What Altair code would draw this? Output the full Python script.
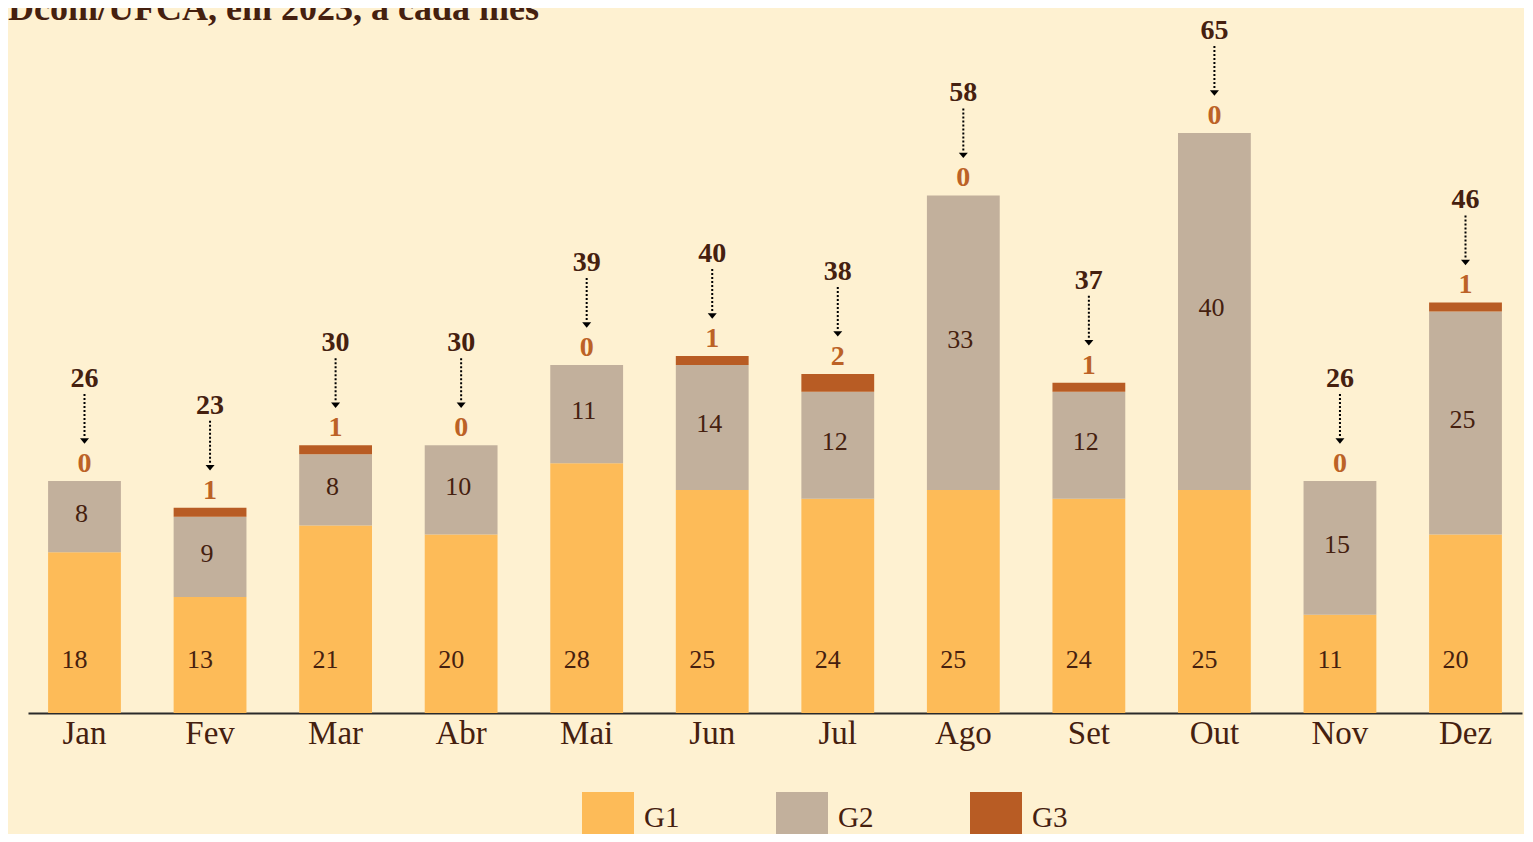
import altair as alt
import pandas as pd

months = ["Jan", "Fev", "Mar", "Abr", "Mai", "Jun", "Jul", "Ago", "Set", "Out", "Nov", "Dez"]
g1 = [18, 13, 21, 20, 28, 25, 24, 25, 24, 25, 11, 20]
g2 = [8, 9, 8, 10, 11, 14, 12, 33, 12, 40, 15, 25]
g3 = [0, 1, 1, 0, 0, 1, 2, 0, 1, 0, 0, 1]
groups = ["G1", "G2", "G3"]
colors = ["#FDBB58", "#C2B09C", "#B85C24"]
title_text = "Dcom/UFCA, em 2023, a cada mês"

SERIF = "Liberation Serif"
DARK = "#45200F"
RUST_TXT = "#BC6226"
BG = "#FEF1D1"

rows = []
for i, m in enumerate(months):
    s = 0
    for g, vals in zip(groups, (g1, g2, g3)):
        v = vals[i]
        rows.append({"mes": m, "grupo": g, "valor": v, "ini": s, "fim": s + v})
        s += v
bars_df = pd.DataFrame(rows)

totals = [a + b + c for a, b, c in zip(g1, g2, g3)]
lab_df = pd.DataFrame({
    "mes": months,
    "g1": g1,
    "g2": g2,
    "g3": g3,
    "total": totals,
    "g2mid": [a + b / 2 for a, b in zip(g1, g2)],
    "zero": [0] * len(months),
})

x = alt.X(
    "mes:N",
    sort=months,
    scale=alt.Scale(paddingInner=0.42, paddingOuter=0.16),
    axis=alt.Axis(
        title=None, labelAngle=0, ticks=False, tickSize=0, labelPadding=4,
        domainColor="#2a2a2a", domainWidth=2, labelFontSize=33, labelFont=SERIF,
        labelColor=DARK, grid=False,
    ),
)
yscale = alt.Scale(domain=[0, 79], nice=False)

bars = alt.Chart(bars_df).mark_bar().encode(
    x=x,
    y=alt.Y("ini:Q", scale=yscale, axis=None),
    y2="fim:Q",
    color=alt.Color(
        "grupo:N",
        scale=alt.Scale(domain=groups, range=colors),
        legend=alt.Legend(
            title=None, orient="none", legendX=554, legendY=784,
            direction="horizontal", symbolType="square", symbolSize=2704,
            symbolStrokeWidth=0, symbolOpacity=1, labelFontSize=29, labelFont=SERIF,
            labelColor=DARK, labelOffset=10, columnPadding=96, padding=0,
        ),
    ),
)

base = alt.Chart(lab_df)

g1_lab = base.mark_text(dx=-10, dy=-53, baseline="middle", fontSize=26, font=SERIF, color=DARK).encode(
    x=x, y=alt.Y("zero:Q", scale=yscale, axis=None), text="g1:Q"
)
g2_lab = base.mark_text(dx=-3, dy=-3, baseline="middle", fontSize=26, font=SERIF, color=DARK).encode(
    x=x, y=alt.Y("g2mid:Q", scale=yscale, axis=None), text="g2:Q"
)
g3_lab = base.mark_text(dy=-17, baseline="middle", fontSize=28, font=SERIF, fontWeight="bold", color=RUST_TXT).encode(
    x=x, y=alt.Y("total:Q", scale=yscale, axis=None), text="g3:Q"
)
tot_lab = base.mark_text(dy=-102, baseline="middle", fontSize=28, font=SERIF, fontWeight="bold", color=DARK).encode(
    x=x, y=alt.Y("total:Q", scale=yscale, axis=None), text="total:Q"
)
arrow_line = base.mark_rule(color="#000000", strokeWidth=2, strokeDash=[2, 2], yOffset=-87, y2Offset=-43).encode(
    x=x, y=alt.Y("total:Q", scale=yscale, axis=None), y2="total:Q"
)
arrow_head = base.mark_point(
    shape="M-1,-0.6L1,-0.6L0,0.6Z", size=81, filled=True, color="#000000", opacity=1, yOffset=-40
).encode(x=x, y=alt.Y("total:Q", scale=yscale, axis=None))

title = alt.Chart(pd.DataFrame({"t": [title_text]})).mark_text(
    align="left", baseline="alphabetic", fontSize=36, font=SERIF, fontWeight="bold", color=DARK
).encode(text="t:N", x=alt.value(-20), y=alt.value(12))

chart = alt.layer(bars, g1_lab, g2_lab, g3_lab, arrow_line, arrow_head, tot_lab, title).properties(
    width=1494,
    height=705,
    background=BG,
    padding={"left": 20, "top": 0, "right": 2, "bottom": 121},
    autosize=alt.AutoSizeParams(type="none"),
).configure_view(stroke=None)

chart.save("out.html", embed_options={"renderer": "svg", "actions": False})
